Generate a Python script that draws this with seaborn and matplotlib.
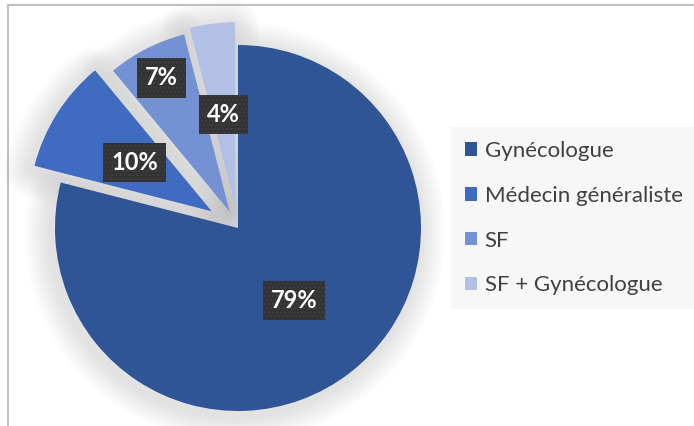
import matplotlib
matplotlib.use("Agg")
import matplotlib.pyplot as plt
import matplotlib.patches as mpatches
from matplotlib.lines import Line2D
import numpy as np
import seaborn as sns

categories = ["Gynécologue", "Médecin généraliste", "SF", "SF + Gynécologue"]
values = [79, 10, 7, 4]
labels = ["79%", "10%", "7%", "4%"]
colors = ["#2F5597", "#3F6BC1", "#7391D3", "#B2C0E6"]
explode = [0.0, 0.17, 0.10, 0.125]
label_dist = [0.50, 0.50, 0.82, 0.50]

sns.set_theme(style="white")
plt.rcParams["font.family"] = ["Lato", "DejaVu Sans"]

W, H = 694, 426
fig = plt.figure(figsize=(W / 100, H / 100), dpi=100)
fig.patch.set_facecolor("white")

cx, cy, R = 238, 228, 183
ax = fig.add_axes([0, 0, 1, 1])
wedges, _ = ax.pie(values, colors=colors, explode=explode, startangle=90,
                   counterclock=False, radius=1.0,
                   wedgeprops=dict(linewidth=0, zorder=3))
ax.set_xlim(-cx / R, (W - cx) / R)
ax.set_ylim(-(H - cy) / R, cy / R)
ax.axis("off")

# soft glow / shadow around the slices
for w in wedges:
    for lw in np.linspace(3, 40, 16):
        g = mpatches.Wedge((w.center[0] - 3 / R, w.center[1] - 4 / R), w.r,
                           w.theta1, w.theta2, facecolor="none",
                           edgecolor="#909090", linewidth=lw, alpha=0.011,
                           joinstyle="round", zorder=1)
        ax.add_patch(g)

for w, lab, d in zip(wedges, labels, label_dist):
    th = np.deg2rad((w.theta1 + w.theta2) / 2)
    x = w.center[0] + d * w.r * np.cos(th)
    y = w.center[1] + d * w.r * np.sin(th)
    ax.text(x, y, lab, ha="center", va="center", color="white",
            fontsize=17, fontweight="bold", zorder=5,
            bbox=dict(boxstyle="square,pad=0.34", facecolor="#333333",
                      edgecolor="#404040", linewidth=0, hatch="...."))

handles = [mpatches.Patch(facecolor=c, edgecolor="none") for c in colors]
leg = fig.legend(handles, categories, loc="upper left",
                 bbox_to_anchor=(451 / W, 1 - 127 / H),
                 frameon=True, fancybox=False, fontsize=16,
                 handlelength=0.55, handleheight=0.55, handletextpad=0.35,
                 labelspacing=1.12, borderpad=0.62, borderaxespad=0)
leg.get_frame().set_facecolor("#F6F6F6")
leg.get_frame().set_edgecolor("none")
for t in leg.get_texts():
    t.set_color("#404040")

# outer chart border (top and left visible)
fig.add_artist(Line2D([8 / W, 1], [1 - 5 / H, 1 - 5 / H], color="#BFBFBF",
                      linewidth=1.5, transform=fig.transFigure))
fig.add_artist(Line2D([8 / W, 8 / W], [0, 1 - 5 / H], color="#BFBFBF",
                      linewidth=1.5, transform=fig.transFigure))

fig.savefig("out.png", dpi=100)
